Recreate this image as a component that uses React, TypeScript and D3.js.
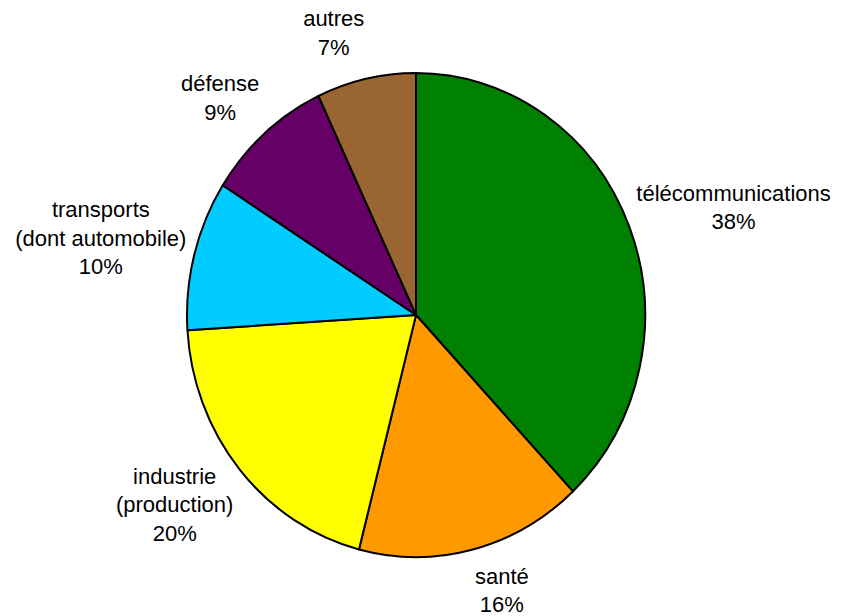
import React from "react";
import * as d3 from "d3";

const categories = ["télécommunications", "santé", "industrie (production)", "transports (dont automobile)", "défense", "autres"];
const labelLines = [
  ["télécommunications"],
  ["santé"],
  ["industrie", "(production)"],
  ["transports", "(dont automobile)"],
  ["défense"],
  ["autres"],
];
const values = [38, 16, 20, 10, 9, 7];
const colors = ["#008000", "#FF9900", "#FFFF00", "#00CCFF", "#660066", "#996633"];

const W = 844;
const H = 616;
const CX = 416;
const CY = 315;
const RX = 229;
const RY = 242;
const FONT = "'Liberation Sans', Arial, sans-serif";
const FS = 22;
const LH = 28.5;

let ctx: CanvasRenderingContext2D | null = null;
function textWidth(s: string): number {
  if (!ctx) {
    const c = document.createElement("canvas");
    ctx = c.getContext("2d");
  }
  if (!ctx) return s.length * FS * 0.5;
  ctx.font = `${FS}px ${FONT}`;
  return ctx.measureText(s).width;
}

export default function App() {
  const total = d3.sum(values);
  const pie = d3.pie<number>().sort(null).value((d) => d);
  const arcs = pie(values);
  const arc = d3.arc<d3.PieArcDatum<number>>().innerRadius(0).outerRadius(1);
  const fmt = (v: number) => `${Math.round((v / total) * 100)}%`;

  return (
    <svg width={W} height={H} style={{ position: "fixed", left: 0, top: 0, background: "#fff" }}>
      <g transform={`translate(${CX},${CY}) scale(${RX},${RY})`}>
        {arcs.map((a, i) => (
          <path
            key={categories[i]}
            d={arc(a) || ""}
            fill={colors[i]}
            stroke="#000"
            strokeWidth={2}
            strokeLinejoin="round"
            vectorEffect="non-scaling-stroke"
          />
        ))}
      </g>
      {arcs.map((a, i) => {
        const mid = (a.startAngle + a.endAngle) / 2;
        const s = Math.sin(mid);
        const c = Math.cos(mid);
        const lines = [...labelLines[i], fmt(values[i])];
        const w = d3.max(lines, (l) => textWidth(l)) || 0;
        const h = (lines.length - 1) * LH + 21;
        const x = CX + (RX + 8) * s + Math.sign(s) * (w / 2);
        const y = CY - (RY + 20) * c - c * (h / 2);
        const top = y - h / 2;
        return (
          <text
            key={"l" + i}
            textAnchor="middle"
            fontFamily={FONT}
            fontSize={FS}
            fill="#000"
          >
            {lines.map((l, j) => (
              <tspan key={j} x={x} y={top + 16 + j * LH}>
                {l}
              </tspan>
            ))}
          </text>
        );
      })}
    </svg>
  );
}
